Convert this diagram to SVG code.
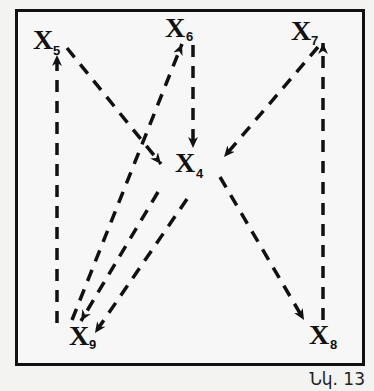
<svg xmlns="http://www.w3.org/2000/svg" width="374" height="391" viewBox="0 0 374 391">
  <style>
    .x { font-family: "Liberation Serif", "Times New Roman", serif; font-weight: bold; font-size: 28px; fill: #111; }
    .sub { font-family: "Liberation Sans", Arial, sans-serif; font-weight: bold; font-size: 13px; fill: #111; }
    .edge { fill: none; stroke: #111; stroke-width: 3.5; stroke-dasharray: 12 9; marker-end: url(#ah); }
    .cap { font-family: "DejaVu Sans", "Noto Sans", sans-serif; font-size: 17px; fill: #222; }
  </style>
  <defs>
    <marker id="ah" viewBox="0 0 10 10" refX="10" refY="5" markerWidth="11" markerHeight="11" markerUnits="userSpaceOnUse" orient="auto">
      <path d="M0,0.5 L10,5 L0,9.5 L3,5 z" fill="#111"/>
    </marker>
  </defs>
  <rect x="0" y="0" width="374" height="391" fill="#f3f3f2"/>
  <rect x="16.5" y="10.5" width="347" height="354" fill="#f7f7f8" stroke="#111" stroke-width="3"/>

  <g id="connectors">
    <path class="edge" d="M57,323 L57,55"/>
    <path class="edge" d="M323,320 L323,43"/>
    <path class="edge" d="M193,45 L193,148"/>
    <path class="edge" d="M318,47 L224,157"/>
    <path class="edge" d="M67,48 L161,164"/>
    <path class="edge" d="M220,177 L304,320"/>
    <path class="edge" d="M72,320 L182,44"/>
    <path class="edge" d="M158,192 L81,321"/>
    <path class="edge" d="M187,199 L95,333"/>
  </g>

  <g id="x5"><text class="x" x="33" y="49">X</text><text class="sub" x="53" y="55">5</text></g>
  <g id="x6"><text class="x" x="165" y="37">X</text><text class="sub" x="186" y="41">6</text></g>
  <g id="x7"><text class="x" x="291" y="40">X</text><text class="sub" x="311" y="45">7</text></g>
  <g id="x4"><text class="x" x="175" y="172">X</text><text class="sub" x="196" y="178">4</text></g>
  <g id="x9"><text class="x" x="69" y="345">X</text><text class="sub" x="89" y="349">9</text></g>
  <g id="x8"><text class="x" x="309" y="344">X</text><text class="sub" x="330" y="349">8</text></g>

  <text class="cap" x="365" y="385" text-anchor="end">Նկ. 13</text>
</svg>
